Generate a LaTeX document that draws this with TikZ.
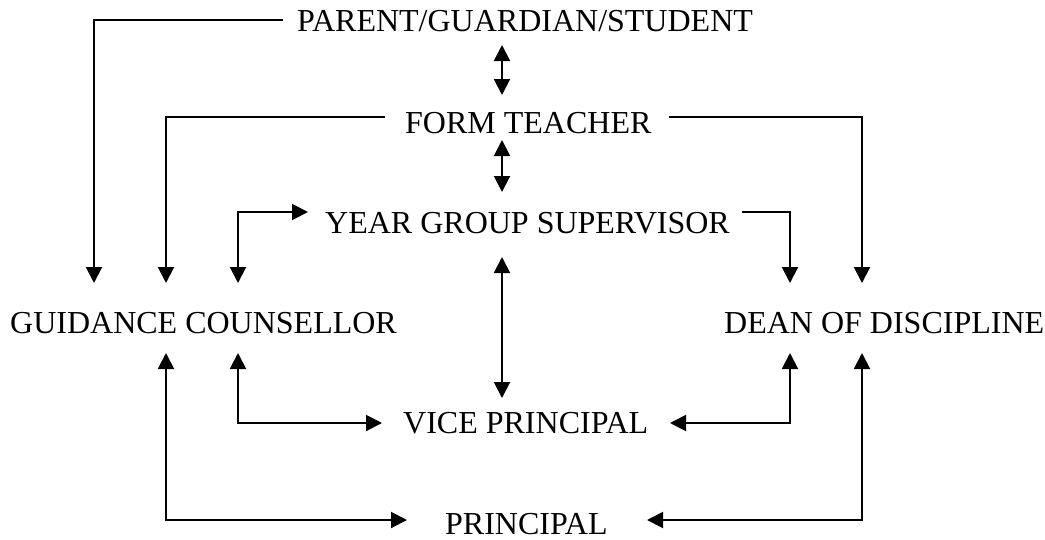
\documentclass[tikz,border=0pt]{standalone}
\usepackage{fontspec}
\setmainfont{Liberation Serif}
\usetikzlibrary{arrows.meta}
\begin{document}
\begin{tikzpicture}[x=1pt,y=-1pt,
  lbl/.style={font=\fontsize{32}{38}\selectfont, inner sep=0pt, anchor=base west},
  conn/.style={line width=2pt, -{Triangle[length=16pt,width=16pt]}},
  both/.style={line width=2pt, {Triangle[length=16pt,width=16pt]}-{Triangle[length=16pt,width=16pt]}}]
\useasboundingbox (0,0) rectangle (1045,539);
% labels
\node[lbl] (pg)  at (297,31)  {PARENT/GUARDIAN/STUDENT};
\node[lbl] (ft)  at (405,133) {FORM TEACHER};
\node[lbl] (ygs) at (325,233) {YEAR GROUP SUPERVISOR};
\node[lbl] (gc)  at (10,333)  {GUIDANCE COUNSELLOR};
\node[lbl] (dd)  at (724,333) {DEAN OF DISCIPLINE};
\node[lbl] (vp)  at (403,433) {VICE PRINCIPAL};
\node[lbl] (pr)  at (445,534) {PRINCIPAL};
% ports
\coordinate (pgL)  at (283,20);
\coordinate (pgB)  at (502,45);
\coordinate (ftT)  at (502,95);
\coordinate (ftL)  at (385,117);
\coordinate (ftR)  at (669,117);
\coordinate (ftB)  at (502,140);
\coordinate (ygsT) at (502,192);
\coordinate (ygsL) at (308,212);
\coordinate (ygsR) at (742,212);
\coordinate (ygsB) at (502,257);
\coordinate (gcT1) at (94,283);
\coordinate (gcT2) at (166,283);
\coordinate (gcT3) at (238,283);
\coordinate (gcB1) at (166,353);
\coordinate (gcB2) at (238,353);
\coordinate (ddT1) at (790,283);
\coordinate (ddT2) at (862,283);
\coordinate (ddB1) at (790,353);
\coordinate (ddB2) at (862,353);
\coordinate (vpT)  at (502,398);
\coordinate (vpL)  at (382,423);
\coordinate (vpR)  at (670,423);
\coordinate (prL)  at (407,520);
\coordinate (prR)  at (647,520);
% connectors
\draw[conn] (pgL) -| (gcT1);
\draw[conn] (ftL) -| (gcT2);
\draw[conn] (ftR) -| (ddT2);
\draw[both] (pgB) -- (ftT);
\draw[both] (ftB) -- (ygsT);
\draw[both] (ygsL) -| (gcT3);
\draw[conn] (ygsR) -| (ddT1);
\draw[both] (ygsB) -- (vpT);
\draw[both] (gcB2) |- (vpL);
\draw[both] (vpR) -| (ddB1);
\draw[both] (gcB1) |- (prL);
\draw[both] (prR) -| (ddB2);
\end{tikzpicture}
\end{document}
